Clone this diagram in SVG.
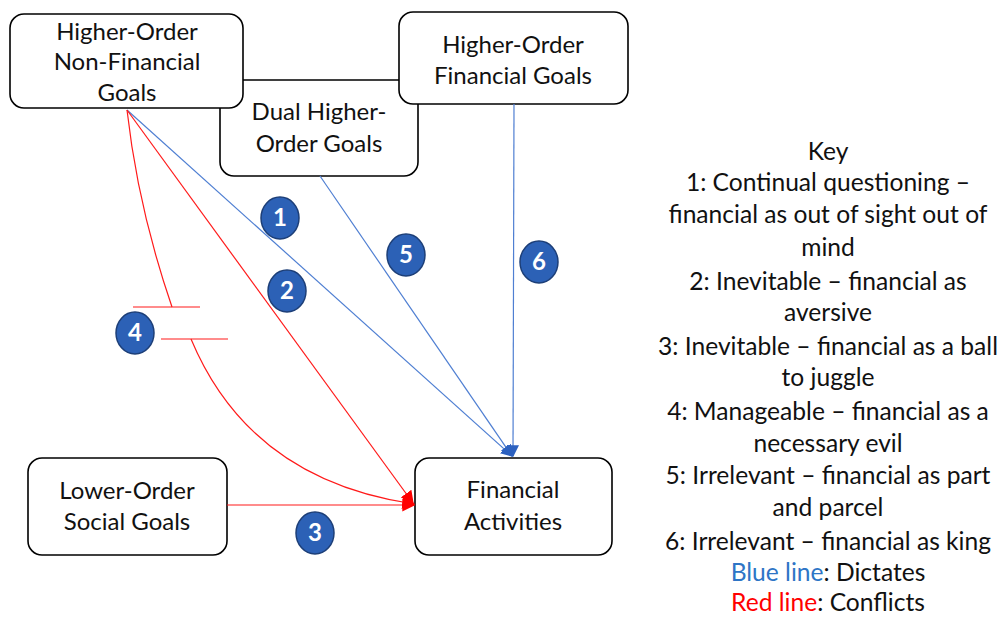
<svg xmlns="http://www.w3.org/2000/svg" width="1002" height="617" viewBox="0 0 1002 617">
<style>
.box{fill:#fff;stroke:#000;stroke-width:1.6}
.t{font-family:Lato,"Liberation Sans",sans-serif;font-size:24px;fill:#111;text-anchor:middle}
.k{font-size:24.6px}
.blue{fill:none;stroke:#4f7fd2;stroke-width:1.2}
.red{fill:none;stroke:#ff1a1a;stroke-width:1.2}
.badge ellipse{fill:#2c61b6;stroke:#1d3f78;stroke-width:1.5}
.badge text{font-family:Lato,"Liberation Sans",sans-serif;font-size:24px;font-weight:bold;fill:#fff;text-anchor:middle}
</style>
<defs>
<marker id="ab" viewBox="0 0 10 10" refX="9" refY="5" markerWidth="12" markerHeight="12" markerUnits="userSpaceOnUse" orient="auto"><path d="M0,0 L10,5 L0,10 z" fill="#2c61c0"/></marker>
<marker id="ar" viewBox="0 0 10 10" refX="9" refY="5" markerWidth="13" markerHeight="13" markerUnits="userSpaceOnUse" orient="auto"><path d="M0,0 L10,5 L0,10 z" fill="#ff0000"/></marker>
</defs>
<rect width="1002" height="617" fill="#fff"/>
<g id="dual-goals">
<rect class="box" x="220" y="80" width="198" height="96" rx="14"/>
<text class="t" x="319" y="120">Dual Higher-</text>
<text class="t" x="319" y="152">Order Goals</text>
</g>
<g id="non-financial-goals">
<rect class="box" x="10" y="14" width="233" height="94" rx="14"/>
<text class="t" x="127" y="40">Higher-Order</text>
<text class="t" x="127" y="70">Non-Financial</text>
<text class="t" x="127" y="101">Goals</text>
</g>
<g id="financial-goals">
<rect class="box" x="399" y="12" width="229" height="92" rx="14"/>
<text class="t" x="513" y="53">Higher-Order</text>
<text class="t" x="513" y="84">Financial Goals</text>
</g>
<g id="social-goals">
<rect class="box" x="28" y="458" width="199" height="97" rx="14"/>
<text class="t" x="127" y="499">Lower-Order</text>
<text class="t" x="127" y="530">Social Goals</text>
</g>
<g id="financial-activities">
<rect class="box" x="415" y="458" width="197" height="97" rx="14"/>
<text class="t" x="513" y="498">Financial</text>
<text class="t" x="513" y="530">Activities</text>
</g>
<g id="connectors">
<line class="blue" x1="127" y1="110" x2="512" y2="456" marker-end="url(#ab)"/>
<line class="blue" x1="320" y1="176" x2="512" y2="456" marker-end="url(#ab)"/>
<line class="blue" x1="514" y1="104" x2="513" y2="456" marker-end="url(#ab)"/>
<line class="red" x1="127" y1="110" x2="413" y2="503" marker-end="url(#ar)"/>
<line class="red" x1="227" y1="505" x2="414" y2="505" marker-end="url(#ar)"/>
<path class="red" d="M127,110 Q138,208 172,307"/>
<line class="red" x1="133" y1="307" x2="200" y2="307"/>
<line class="red" x1="161" y1="339" x2="228" y2="339"/>
<path class="red" d="M191,339 Q250,480 414,504" marker-end="url(#ar)"/>
</g>
<g id="badges" class="badge">
<g id="b1"><ellipse cx="280" cy="218" rx="19" ry="21"/><text x="280" y="226">1</text></g>
<g id="b2"><ellipse cx="287" cy="291" rx="19" ry="21"/><text x="287" y="299">2</text></g>
<g id="b3"><ellipse cx="315" cy="533" rx="19" ry="21"/><text x="315" y="541">3</text></g>
<g id="b4"><ellipse cx="135" cy="333" rx="19" ry="21"/><text x="135" y="341">4</text></g>
<g id="b5"><ellipse cx="406" cy="255" rx="19" ry="21"/><text x="406" y="263">5</text></g>
<g id="b6"><ellipse cx="539" cy="262" rx="19" ry="21"/><text x="539" y="270">6</text></g>
</g>
<g id="key">
<text class="t k" x="828" y="160">Key</text>
<text class="t k" x="828" y="191">1: Continual questioning –</text>
<text class="t k" x="828" y="223">financial as out of sight out of</text>
<text class="t k" x="828" y="256">mind</text>
<text class="t k" x="828" y="290">2: Inevitable – financial as</text>
<text class="t k" x="828" y="321">aversive</text>
<text class="t k" x="828" y="355">3: Inevitable – financial as a ball</text>
<text class="t k" x="828" y="386">to juggle</text>
<text class="t k" x="828" y="420">4: Manageable – financial as a</text>
<text class="t k" x="828" y="452">necessary evil</text>
<text class="t k" x="828" y="484">5: Irrelevant – financial as part</text>
<text class="t k" x="828" y="516">and parcel</text>
<text class="t k" x="828" y="550">6: Irrelevant – financial as king</text>
<text class="t k" x="828" y="581"><tspan fill="#2e75c6">Blue line</tspan>: Dictates</text>
<text class="t k" x="828" y="611"><tspan fill="#ff0000">Red line</tspan>: Conflicts</text>
</g>
</svg>
